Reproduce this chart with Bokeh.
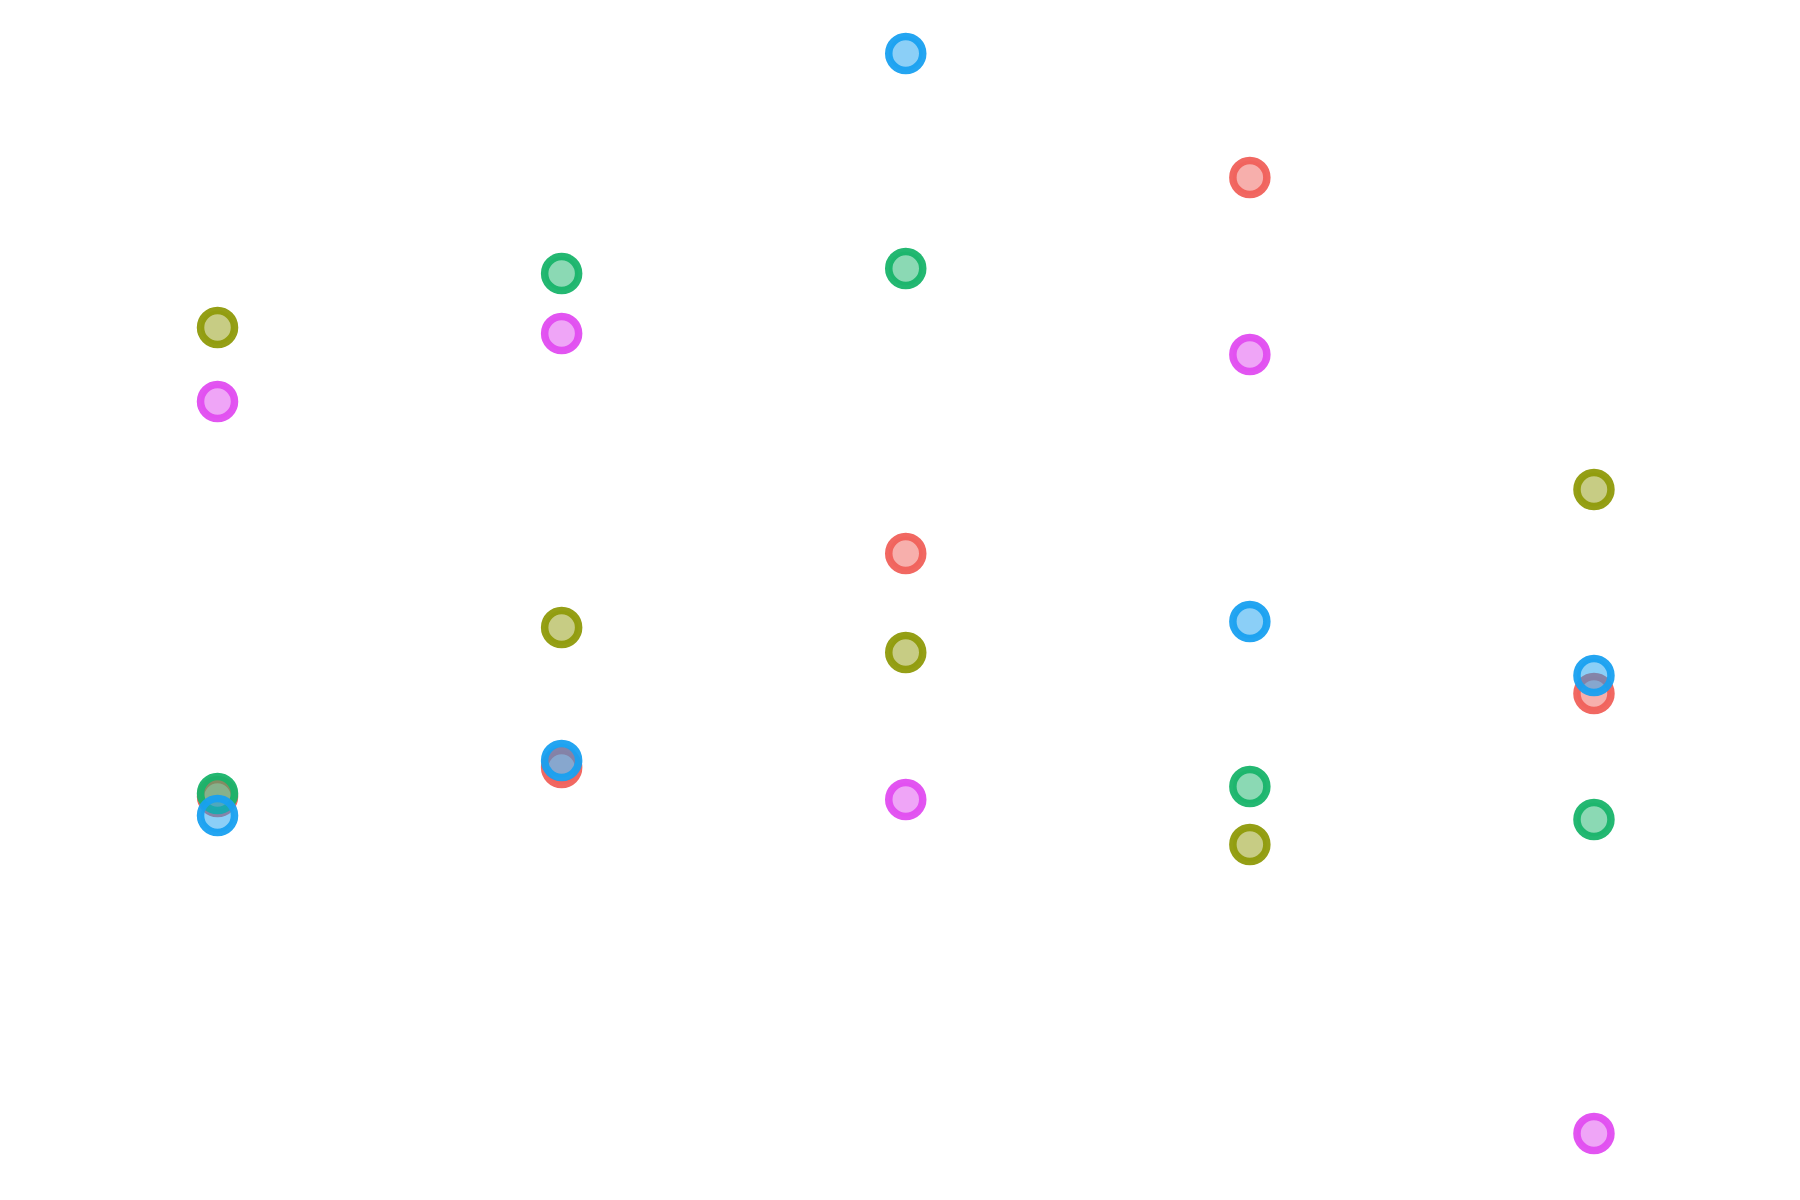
from bokeh.plotting import figure
from bokeh.models import Range1d
from bokeh.embed import file_html
from bokeh.resources import INLINE

groups = [1, 2, 3, 4, 5]
red = [39.6, 42.5, 63.9, 101.5, 49.9]
olive = [86.5, 56.5, 54.0, 34.8, 70.3]
green = [39.9, 91.9, 92.4, 40.6, 37.3]
blue = [37.7, 43.2, 113.9, 57.1, 51.7]
magenta = [79.1, 85.9, 39.3, 83.8, 5.9]

series = [
    (red, "#F0605A"),
    (olive, "#8F9A0A"),
    (green, "#18B46A"),
    (blue, "#18A0F0"),
    (magenta, "#E04CF0"),
]

p = figure(width=1784, height=1184, output_backend="svg", toolbar_location=None,
           x_range=Range1d(0.3693, 5.5537), y_range=Range1d(0.8, 119.2),
           min_border=0)
p.axis.visible = False
p.grid.visible = False
p.outline_line_color = None
p.background_fill_color = "white"
p.border_fill_color = "white"

for vals, col in series:
    p.scatter(groups, vals, size=34, line_width=7.5, line_color=col,
              fill_color=col, fill_alpha=0.5, line_alpha=0.95)

open("out.html", "w").write(file_html(p, INLINE))
